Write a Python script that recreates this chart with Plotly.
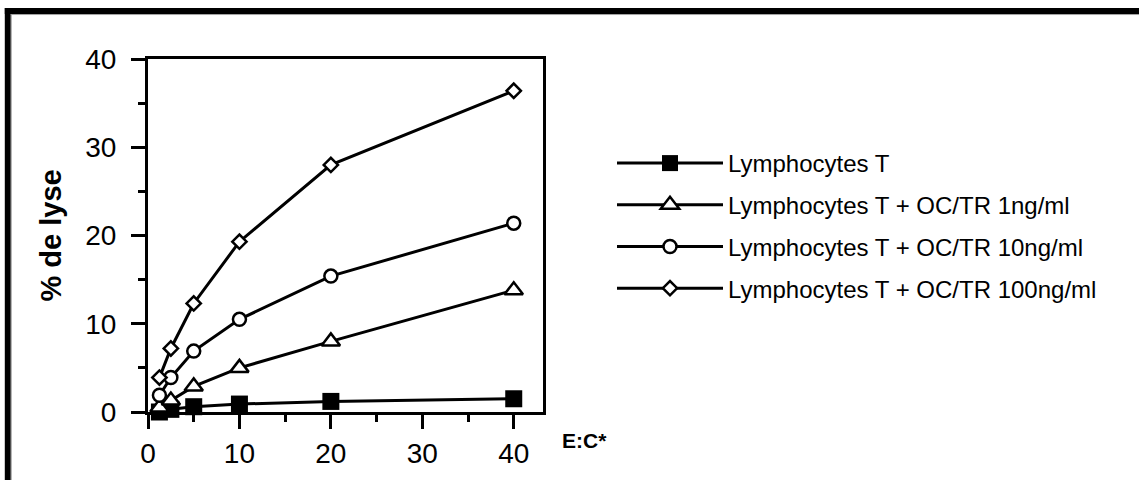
import plotly.graph_objects as go

# ---- data ----
ratio_ec = [1.25, 2.5, 5, 10, 20, 40]
lyse_T = [0.0, 0.3, 0.6, 0.9, 1.2, 1.5]
lyse_1ng = [0.5, 1.3, 2.9, 5.0, 8.0, 13.8]
lyse_10ng = [1.9, 3.9, 6.9, 10.5, 15.4, 21.4]
lyse_100ng = [3.9, 7.2, 12.3, 19.3, 28.0, 36.4]
series_names = [
    "Lymphocytes T",
    "Lymphocytes T + OC/TR 1ng/ml",
    "Lymphocytes T + OC/TR 10ng/ml",
    "Lymphocytes T + OC/TR 100ng/ml",
]
x_ticks = [0, 10, 20, 30, 40]
y_ticks = [0, 10, 20, 30, 40]

# ---- layout geometry (pixels) ----
W, H = 1139, 480
L, R, T, B = 147.5, 543.3, 59, 412.3
PW, PH = R - L, B - T


def px(x):
    return (x - L) / PW


def py(y):
    return (B - y) / PH


FONT = "Liberation Sans, Arial, Helvetica, sans-serif"
LW = 3
MLW = 2.5

styles = [
    dict(symbol="square", size=17, color="black", line=dict(color="black", width=0)),
    dict(symbol="triangle-up", size=16, color="white", line=dict(color="black", width=MLW)),
    dict(symbol="circle", size=13, color="white", line=dict(color="black", width=MLW)),
    dict(symbol="diamond", size=11, color="white", line=dict(color="black", width=MLW)),
]
series = [lyse_T, lyse_1ng, lyse_10ng, lyse_100ng]

fig = go.Figure()
for name, ys, st in zip(series_names, series, styles):
    fig.add_trace(go.Scatter(
        x=ratio_ec, y=ys, name=name, mode="lines+markers",
        line=dict(color="black", width=LW),
        marker=st, cliponaxis=False, legendgroup=name,
    ))

axis_common = dict(
    showline=True, linecolor="black", linewidth=LW, mirror=True,
    ticks="outside", ticklen=14, tickwidth=LW, tickcolor="black",
    showgrid=False, zeroline=False,
    tickfont=dict(family=FONT, size=28, color="black"),
    minor=dict(ticks="outside", ticklen=7, tickwidth=LW, tickcolor="black", dtick=5, showgrid=False),
)
fig.update_xaxes(range=[0, 43.2], tickvals=x_ticks, ticklabelstandoff=0, **axis_common)
fig.update_yaxes(range=[0, 40], tickvals=y_ticks, ticklabelstandoff=9, **axis_common)

shapes = [
    # outer frame: thick black top and left bars
    dict(type="rect", xref="paper", yref="paper", x0=px(4), x1=px(W + 5), y0=py(14), y1=py(8),
         fillcolor="black", line=dict(width=0), layer="above"),
    dict(type="rect", xref="paper", yref="paper", x0=px(4), x1=px(10), y0=py(H + 5), y1=py(8),
         fillcolor="black", line=dict(width=0), layer="above"),
    dict(type="line", xref="paper", yref="paper", x0=px(10), x1=px(W + 5), y0=py(14.5), y1=py(14.5),
         line=dict(color="#a0a0a0", width=1)),
    dict(type="line", xref="paper", yref="paper", x0=px(10.5), x1=px(10.5), y0=py(14), y1=py(H + 5),
         line=dict(color="#a0a0a0", width=1)),
]

annotations = [
    dict(text="<b>% de lyse</b>", xref="paper", yref="paper", x=px(50), y=py(236),
         textangle=-90, showarrow=False, xanchor="center", yanchor="middle",
         font=dict(family=FONT, size=29, color="black")),
    dict(text="<b>E:C*</b>", xref="paper", yref="paper", x=px(560), y=py(441),
         showarrow=False, xanchor="left", yanchor="middle",
         font=dict(family=FONT, size=21, color="black")),
]

fig.update_layout(
    width=W, height=H,
    margin=dict(l=L, r=W - R, t=T, b=H - B, autoexpand=False),
    paper_bgcolor="white", plot_bgcolor="white",
    showlegend=True,
    legend=dict(
        xref="container", yref="container",
        x=612 / W, y=1 - 141 / H, xanchor="left", yanchor="top",
        font=dict(family=FONT, size=24, color="black"),
        tracegroupgap=7.5, traceorder="grouped", bgcolor="rgba(0,0,0,0)",
        itemwidth=106,
    ),
    shapes=shapes, annotations=annotations,
    font=dict(family=FONT, color="black"),
)

fig.write_html("out.html")
